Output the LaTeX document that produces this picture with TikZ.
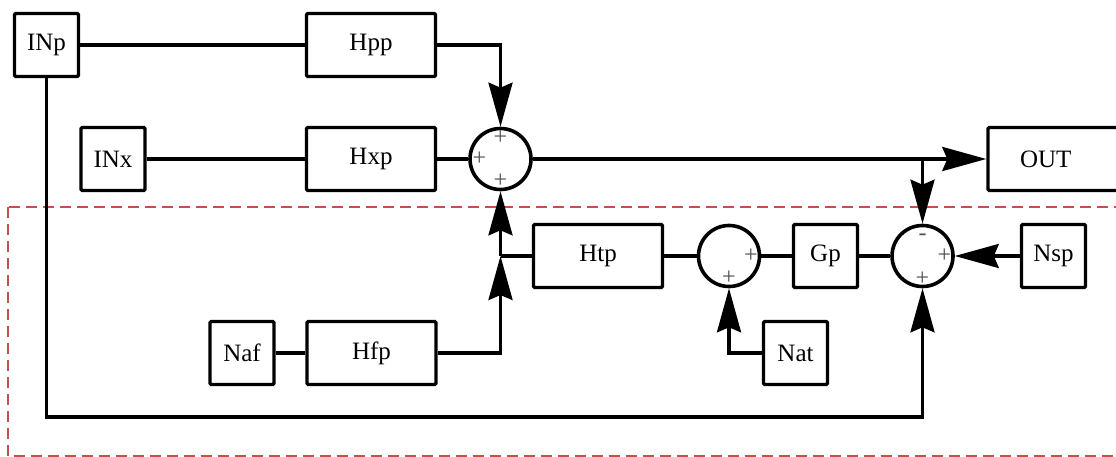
\documentclass[tikz,border=0pt]{standalone}
\usepackage{fontspec}
\setmainfont{Liberation Serif}
\usetikzlibrary{arrows.meta,calc}
\definecolor{zonered}{RGB}{196,80,77}
\definecolor{signgray}{RGB}{80,80,80}
\tikzset{
  blk/.style={draw, line width=3.4pt, rounded corners=1.2pt, inner sep=0pt,
              font=\fontsize{25}{28}\selectfont},
  sq/.style={blk, minimum width=64pt, minimum height=63pt},
  wide/.style={blk, minimum width=129pt, minimum height=63pt},
  sumnode/.style={draw, circle, line width=3.6pt, minimum size=61pt, inner sep=0pt},
  sign/.style={text=signgray, font=\fontsize{24}{24}\selectfont, inner sep=0pt},
  wire/.style={line width=3.4pt},
  flow/.style={wire, -{Stealth[length=44pt, width=24pt, inset=5pt]}},
  zone/.style={draw=zonered, line width=2.2pt, dash pattern=on 11pt off 6pt}
}
\begin{document}
\begin{tikzpicture}[x=1pt, y=-1pt]
\useasboundingbox (0,0) rectangle (1116,457);

% region boundary
\draw[zone] (8,207) rectangle (1150,456.5);

% blocks
\node[sq]   (INp) at (46.5,45)  {INp};
\node[wide] (Hpp) at (371,45)   {Hpp};
\node[sq]   (INx) at (113,159)  {INx};
\node[wide] (Hxp) at (371,159)  {Hxp};
\node[sumnode] (s1) at (500.5,159) {};
\node[blk, minimum width=160pt, minimum height=63pt, text width=128pt, align=left] (OUT) at (1068,159) {\hspace*{16pt}OUT};

\node[wide] (Htp) at (598,256)  {Htp};
\node[sumnode] (s2) at (729,256) {};
\node[sq]   (Gp)  at (825.5,256) {Gp};
\node[sumnode] (s3) at (922.5,256) {};
\node[sq]   (Nsp) at (1053.5,256) {Nsp};

\node[sq]   (Naf) at (242,353)  {Naf};
\node[wide] (Hfp) at (371.5,353) {Hfp};
\node[sq]   (Nat) at (795.5,353) {Nat};

% summing signs
\node[sign] at ($(s1)+(0,-21)$) {+};
\node[sign] at ($(s1)+(-21,0)$) {+};
\node[sign] at ($(s1)+(0,22)$)  {+};
\node[sign] at ($(s2)+(22,0)$)  {+};
\node[sign] at ($(s2)+(0,22)$)  {+};
\node[sign] at ($(s3)+(0,-19)$) {-};
\node[sign] at ($(s3)+(22,0)$)  {+};
\node[sign] at ($(s3)+(0,23)$)  {+};

% junction points
\coordinate (j)  at (500.5,256);
\coordinate (br) at (922.5,159);
\coordinate (fb) at (922.5,417);

% connections
\draw[wire] (INp.east) -- (Hpp.west);
\draw[flow] (Hpp.east) -| (s1.north);
\draw[wire] (INx.east) -- (Hxp.west);
\draw[wire] (Hxp.east) -- (s1.west);
\draw[flow] (s1.east) -- (OUT.west);
\draw[flow] (br) -- (s3.north);

\draw[wire] (Htp.west) -- (j);
\draw[flow] (j) -- (s1.south);
\draw[wire] (Naf.east) -- (Hfp.west);
\draw[flow] (Hfp.east) -| (j);

\draw[wire] (Htp.east) -- (s2.west);
\draw[wire] (s2.east) -- (Gp.west);
\draw[wire] (Gp.east) -- (s3.west);
\draw[flow] (Nsp.west) -- (s3.east);
\draw[flow] (Nat.west) -| (s2.south);

\draw[flow] (INp.south) |- (fb) -- (s3.south);
\end{tikzpicture}
\end{document}
